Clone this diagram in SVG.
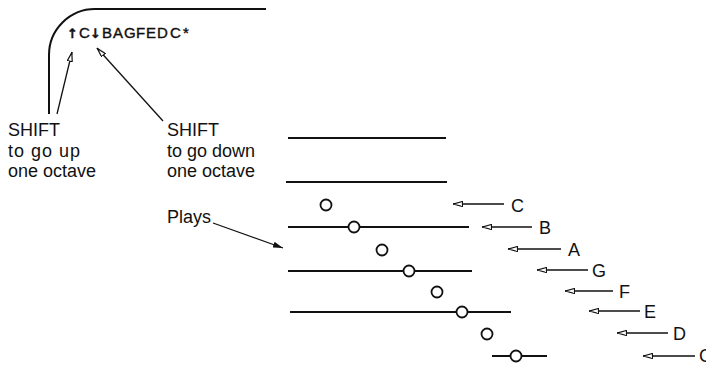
<svg xmlns="http://www.w3.org/2000/svg" width="706" height="365" viewBox="0 0 706 365">
<defs>
<style>
.t{font-family:"Liberation Sans",Arial,sans-serif;font-size:18px;fill:#111;}
.k{font-family:"Liberation Sans",Arial,sans-serif;font-size:15px;fill:#111;stroke:#111;stroke-width:0.4;}
.sym{font-family:"DejaVu Sans","Liberation Sans",sans-serif;font-weight:bold;font-size:13px;}
.ln{stroke:#111;stroke-width:2;fill:none;}
.ar{stroke:#111;stroke-width:1.3;fill:none;}
.nt{stroke:#111;stroke-width:1.8;fill:#fff;}
</style>
<marker id="ah" viewBox="0 0 10 6" refX="10" refY="3" markerWidth="10" markerHeight="6" markerUnits="userSpaceOnUse" orient="auto">
<path d="M0.5,0.5 L9.5,3 L0.5,5.5 z" fill="#fff" stroke="#111" stroke-width="1.2"/>
</marker>
<marker id="ahf" viewBox="0 0 10 6" refX="10" refY="3" markerWidth="10" markerHeight="6" markerUnits="userSpaceOnUse" orient="auto">
<path d="M0,0 L10,3 L0,6 z" fill="#111"/>
</marker>
</defs>

<g id="keyboard-frame">
<path class="ln" d="M49,114 V55 A46,46 0 0 1 95,9 H266" stroke-width="2.5"/>
<text class="k" y="38"><tspan class="sym" x="67">↑</tspan><tspan x="79">C</tspan><tspan class="sym" x="90">↓</tspan><tspan x="102">B</tspan><tspan x="113">A</tspan><tspan x="124">G</tspan><tspan x="136">F</tspan><tspan x="146">E</tspan><tspan x="157">D</tspan><tspan x="170">C</tspan><tspan x="183">*</tspan></text>
</g>

<g id="shift-up">
<text class="t" x="8" y="136">SHIFT</text>
<text class="t" x="8" y="157" letter-spacing="1">to go up</text>
<text class="t" x="8" y="177">one octave</text>
</g>

<g id="shift-down">
<text class="t" x="167" y="136">SHIFT</text>
<text class="t" x="167" y="157">to go down</text>
<text class="t" x="167" y="177">one octave</text>
</g>

<g id="plays">
<text class="t" x="167" y="223">Plays</text>
</g>

<g id="staff">
<line class="ln" x1="288" y1="138" x2="446" y2="138"/>
<line class="ln" x1="286" y1="182" x2="447" y2="182"/>
<line class="ln" x1="288" y1="227" x2="469" y2="227"/>
<line class="ln" x1="288" y1="271" x2="472" y2="271"/>
<line class="ln" x1="290" y1="312" x2="511" y2="312"/>
<line class="ln" x1="492" y1="356" x2="547" y2="356"/>
</g>

<g id="notes">
<circle class="nt" cx="326" cy="205" r="5.5"/>
<circle class="nt" cx="354" cy="227" r="5.5"/>
<circle class="nt" cx="382" cy="250" r="5.5"/>
<circle class="nt" cx="409" cy="271" r="5.5"/>
<circle class="nt" cx="437" cy="292" r="5.5"/>
<circle class="nt" cx="462" cy="312" r="5.5"/>
<circle class="nt" cx="487" cy="334" r="5.5"/>
<circle class="nt" cx="516" cy="356" r="5.5"/>
</g>

<g id="labels">
<text class="t" x="511" y="212">C</text>
<text class="t" x="539" y="234">B</text>
<text class="t" x="568" y="256">A</text>
<text class="t" x="592" y="277">G</text>
<text class="t" x="619" y="298">F</text>
<text class="t" x="644" y="318">E</text>
<text class="t" x="673" y="340">D</text>
<text class="t" x="699" y="362">C</text>
</g>

<g id="connectors">
<line class="ar" x1="57" y1="114" x2="72" y2="52" marker-end="url(#ah)"/>
<line class="ar" x1="163" y1="121" x2="97" y2="48" marker-end="url(#ah)"/>
<line class="ar" x1="213" y1="223" x2="283" y2="248" marker-end="url(#ahf)"/>
<line class="ar" x1="504" y1="204" x2="453" y2="204" marker-end="url(#ah)"/>
<line class="ar" x1="532" y1="227" x2="482" y2="227" marker-end="url(#ah)"/>
<line class="ar" x1="561" y1="249" x2="508" y2="249" marker-end="url(#ah)"/>
<line class="ar" x1="588" y1="270" x2="537" y2="270" marker-end="url(#ah)"/>
<line class="ar" x1="613" y1="291" x2="565" y2="291" marker-end="url(#ah)"/>
<line class="ar" x1="640" y1="311" x2="589" y2="311" marker-end="url(#ah)"/>
<line class="ar" x1="668" y1="333" x2="617" y2="333" marker-end="url(#ah)"/>
<line class="ar" x1="695" y1="356" x2="643" y2="356" marker-end="url(#ah)"/>
</g>
</svg>
